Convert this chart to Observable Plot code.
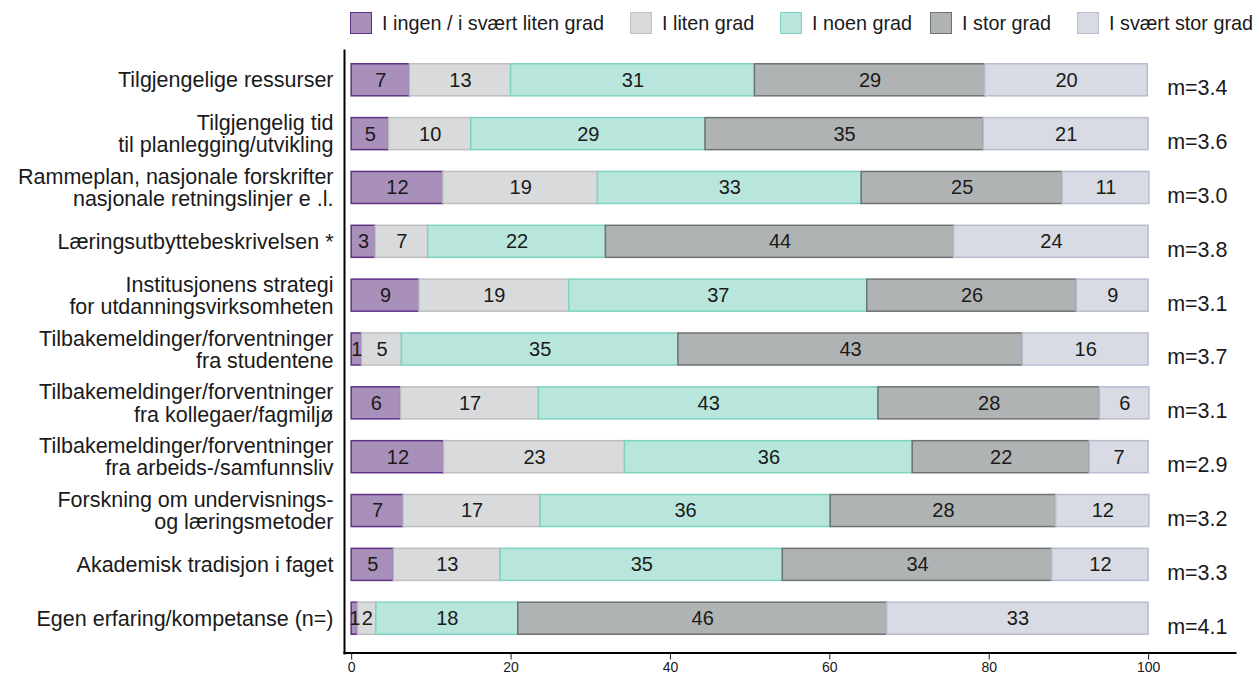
<!DOCTYPE html>
<html><head><meta charset="utf-8">
<script src="https://cdn.jsdelivr.net/npm/d3@7"></script>
<script src="https://cdn.jsdelivr.net/npm/@observablehq/plot@0.6"></script>
<style>
body{margin:0;background:#fff;font-family:"Liberation Sans",Arial,sans-serif;}
#legend{position:relative;height:45px;width:1260px;overflow:hidden;}
.item{position:absolute;top:12px;height:22px;display:flex;align-items:center;font-size:19.8px;color:#1a1a1a;white-space:nowrap;}
.sw{width:22px;height:22px;box-sizing:border-box;border:1.5px solid;margin-right:10px;}
#chart svg{display:block;}
</style></head><body>
<div id="legend"></div>
<div id="chart"></div>
<script>
const categories = [
  "Tilgjengelige ressurser",
  "Tilgjengelig tid\ntil planlegging/utvikling",
  "Rammeplan, nasjonale forskrifter\nnasjonale retningslinjer e .l.",
  "Læringsutbyttebeskrivelsen *",
  "Institusjonens strategi\nfor utdanningsvirksomheten",
  "Tilbakemeldinger/forventninger\nfra studentene",
  "Tilbakemeldinger/forventninger\nfra kollegaer/fagmiljø",
  "Tilbakemeldinger/forventninger\nfra arbeids-/samfunnsliv",
  "Forskning om undervisnings-\nog læringsmetoder",
  "Akademisk tradisjon i faget",
  "Egen erfaring/kompetanse (n=)"
];
const levels = ["I ingen / i svært liten grad","I liten grad","I noen grad","I stor grad","I svært stor grad"];
const ingen      = [7.3, 4.7, 11.5, 3.0, 8.5, 1.3, 6.2, 11.6, 6.5, 5.3, 0.8];
const liten      = [12.7, 10.3, 19.4, 6.6, 18.8, 5.0, 17.3, 22.7, 17.2, 13.4, 2.3];
const noen       = [30.6, 29.4, 33.1, 22.3, 37.4, 34.7, 42.6, 36.1, 36.4, 35.4, 17.8];
const stor       = [28.9, 34.9, 25.2, 43.7, 26.3, 43.2, 27.8, 22.2, 28.3, 33.8, 46.3];
const svaertStor = [20.4, 20.7, 10.9, 24.4, 9.0, 15.8, 6.2, 7.4, 11.7, 12.1, 32.8];
const means = ["3.4","3.6","3.0","3.8","3.1","3.7","3.1","2.9","3.2","3.3","4.1"];
const xTicks = [0, 20, 40, 60, 80, 100];

const fills   = ["#a990ba", "#d9dadc", "#b8e6dc", "#b0b3b3", "#d8dbe3"];
const strokes = ["#5e3187", "#bdbec0", "#7fd3c1", "#6f7273", "#b8bccf"];
const legendLeft = [350, 630, 780, 930, 1077];

const series = [ingen, liten, noen, stor, svaertStor];
const data = [];
categories.forEach((c, i) => series.forEach((s, j) => data.push({cat: c, li: j, level: levels[j], value: s[i]})));

const legend = document.getElementById("legend");
levels.forEach((l, j) => {
  const it = document.createElement("div");
  it.className = "item";
  it.style.left = legendLeft[j] + "px";
  it.innerHTML = `<div class="sw" style="background:${fills[j]};border-color:${strokes[j]}"></div><span>${l}</span>`;
  legend.appendChild(it);
});

const chart = Plot.plot({
  width: 1260,
  height: 629,
  marginLeft: 344,
  marginRight: 25,
  marginTop: 8,
  marginBottom: 29,
  x: {domain: [-0.9, 110.9]},
  y: {domain: categories, paddingInner: 0.405, paddingOuter: 0.2, round: false},
  style: {fontFamily: "'Liberation Sans', Arial, sans-serif", fontSize: "20px", color: "#1a1a1a", background: "white"},
  marks: [
    Plot.barX(data, Plot.stackX({x: "value", y: "cat", z: "level", fill: d => fills[d.li], stroke: d => strokes[d.li], strokeWidth: 1.5})),
    Plot.text(data, Plot.stackX({x: "value", y: "cat", z: "level", text: d => String(Math.round(d.value)), fontSize: 20, fill: "#1a1a1a"})),
    Plot.text(categories, {y: d => d, text: (d, i) => "m=" + means[i], frameAnchor: "right", textAnchor: "end", dx: -8, dy: 8, fontSize: 21.5, fill: "#1a1a1a"}),
    Plot.frame({anchor: "left", insetTop: -3, insetBottom: -8, strokeWidth: 2, stroke: "#000"}),
    Plot.frame({anchor: "bottom", dy: 7.5, strokeWidth: 2, stroke: "#000"}),
    Plot.axisX({ticks: xTicks, anchor: "bottom", dy: 7.5, tickSize: 7, tickPadding: 2, fontSize: 14, label: null}),
    Plot.axisY({anchor: "left", tickSize: 0, tickPadding: 11, fontSize: 21.5, lineHeight: 1.03, label: null})
  ]
});
document.getElementById("chart").appendChild(chart);
</script>
</body></html>
